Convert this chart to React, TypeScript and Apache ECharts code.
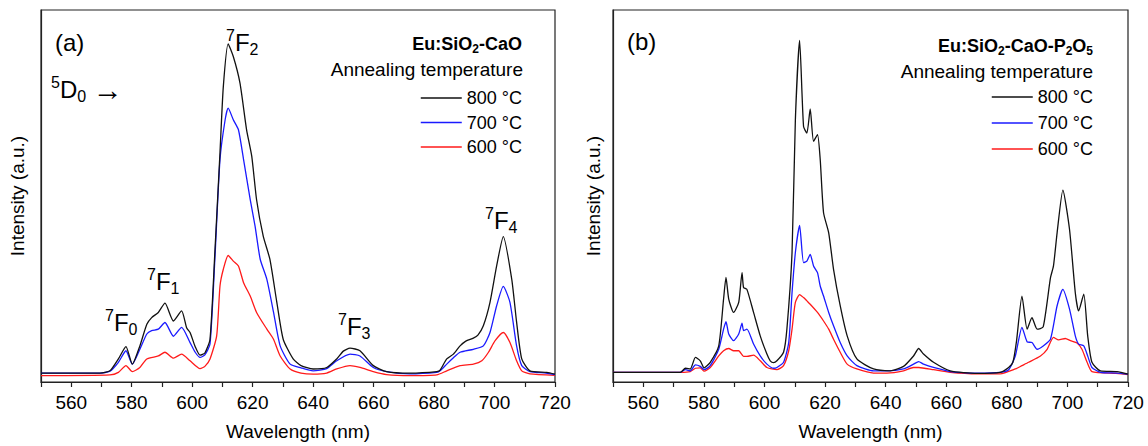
import React, { useEffect, useRef } from "react";
import * as echarts from "echarts";

const FONT = "'Liberation Sans', Arial, Helvetica, sans-serif";

const xTicks = { min: 550, max: 720, step: 10, labelStep: 20 };
const seriesNames = ["800 °C", "700 °C", "600 °C"];
const seriesColors = ["#111111", "#1a1aff", "#ff1a1a"];

// Panel (a): Eu:SiO2-CaO  — [wavelength nm, intensity a.u.]
const a800: [number, number][] = [
  [550, 2.4], [569.5, 2.4], [572.8, 3.0], [575.6, 6.2], [578.1, 9.5], [580.2, 4.8], [582.7, 9.7], [585, 15.5],
  [586.6, 17.3], [588.8, 18.7], [591, 21.2], [593.8, 16.4], [596.5, 19.1], [598.2, 14.5], [599.3, 13.3], [601, 9.5],
  [602.6, 7.2], [604.2, 7.8], [605.9, 11.5], [607.5, 34.8], [609.2, 61.7], [610.3, 79.4], [611.9, 90.9], [613.6, 87.5],
  [615.8, 80.4], [618, 67.8], [619.7, 60.7], [621.3, 49], [623.5, 39.2], [625.7, 33], [628, 21.4], [630.1, 11.5],
  [633.4, 6.2], [636, 4.4], [640, 3.5], [644.5, 3.9], [647.8, 6.2], [650, 8.3], [652.2, 9.1], [655.5, 8.4],
  [659.9, 4.4], [664.3, 2.8], [672, 2.4], [680.9, 2.8], [682, 3.2], [684.2, 6.2], [686.4, 7.5], [688.6, 9.7],
  [690.5, 11], [693, 11.8], [694.5, 12.6], [696.3, 15.1], [698.5, 21.4], [700.7, 31.2], [702.9, 39.1], [705.7, 27.6],
  [707.3, 16.1], [709, 6.2], [711.7, 3], [717.3, 2.6], [720, 2.1],
];
const a700: [number, number][] = [
  [550, 2.4], [569.5, 2.4], [572.8, 2.9], [575.6, 5.3], [578.1, 8.4], [580.2, 4.8], [582.7, 8.8], [585, 12.9],
  [586.6, 13.8], [588.8, 14.2], [591, 16], [593.8, 12.3], [596.5, 14.7], [599.3, 10.6], [601, 8], [602.6, 6.6],
  [604.2, 7.3], [605.9, 10.2], [607.5, 33], [609.2, 59.8], [610.9, 70.5], [611.9, 73.6], [613.6, 70.5], [615.3, 67.8],
  [617, 59.8], [619.2, 49], [620.8, 41.9], [622.5, 33], [624.7, 27.6], [626.9, 18.8], [629.1, 9.7], [632.4, 4.8],
  [636, 3.8], [640, 3.0], [644.5, 3.6], [647.8, 5.7], [652.2, 7.5], [655.5, 7], [659.9, 3.9], [664.3, 2.8],
  [672, 2.2], [680.9, 2.6], [682, 3], [684.2, 4.8], [686.4, 6.5], [688.6, 8], [693, 8.8], [696.3, 9.7],
  [698.5, 13.3], [700.7, 20.5], [702.9, 25.7], [705.1, 21.4], [707.3, 9.7], [709, 4.4], [711.7, 2.8], [717, 2.4],
  [720, 2.0],
];
const a600: [number, number][] = [
  [550, 1.7], [572.8, 1.9], [575.6, 2.6], [578.1, 4.4], [580.2, 2.8], [582.7, 3.9], [585, 6.2], [588.8, 7],
  [591, 8], [593.8, 6.4], [596.5, 7.5], [599.3, 5.7], [602.6, 3.6], [604.2, 4.2], [605.9, 6.2], [608.1, 12.4],
  [609.2, 25.8], [610.3, 30.3], [611.9, 34], [613.6, 32.5], [615.3, 31.2], [617, 26.7], [619.2, 23.1], [621.3, 18.7],
  [624.7, 14.2], [626.9, 11.5], [629.1, 7], [632.4, 3.5], [636, 2.4], [640, 2.1], [644.5, 2.4], [647.8, 3.5],
  [652.2, 4.4], [655.5, 3.9], [659.9, 2.8], [664.3, 2.0], [672, 1.7], [680.9, 1.9], [684.2, 3], [688.6, 4.4],
  [693, 4.8], [695.8, 5.7], [698, 8], [700.2, 11.1], [702.9, 13.3], [705.1, 10.6], [707.3, 5.7], [709, 3],
  [711.7, 2.2], [720, 1.8],
];

// Panel (b): Eu:SiO2-CaO-P2O5
const b800: [number, number][] = [
  [550, 2.6], [572.2, 2.6], [573.9, 3.7], [575.5, 3.5], [577.2, 6.6], [578.8, 5.7], [580.1, 3.8], [582.1, 5.3],
  [584.9, 9.7], [586.5, 22.3], [587.3, 28.1], [588.2, 22.3], [589.8, 18.7], [591.5, 21.4], [592.6, 29.4], [593.1, 25.4],
  [594.2, 24.9], [596.4, 18.7], [598.6, 12.4], [600.8, 7.5], [601.9, 5.7], [603, 5.2], [604.1, 5.7], [606.3, 8],
  [607.4, 14.2], [609.1, 34.8], [610.2, 70.5], [611.6, 91.8], [612.9, 68.7], [614, 66.9], [615.1, 73.4], [616.2, 64.7],
  [617.5, 66.5], [618.4, 59.8], [619.5, 45.5], [621.2, 40.1], [622.8, 30.3], [625, 20.5], [627.3, 12.4], [630.5, 6.2],
  [636, 3.5], [641.5, 3], [645.9, 4.2], [649.2, 7], [650.9, 9], [652.5, 7.5], [655.8, 5.3], [661.3, 3],
  [670.2, 2.3], [677.8, 2.6], [680.6, 3.9], [682, 5.3], [683.2, 11], [685, 23.1], [686.7, 14.2], [688.3, 17.3],
  [690, 14.2], [692, 14.8], [694.4, 28], [695.4, 31.2], [696.6, 40.1], [698.5, 51.6], [700.7, 41], [702.6, 24],
  [703.7, 19.1], [705.4, 23.6], [706.7, 12.4], [708.1, 5.3], [710.9, 3], [716.4, 2.8], [720, 2.1],
];
const b700: [number, number][] = [
  [550, 2.6], [572.2, 2.6], [573.9, 3.3], [575.5, 3], [577.2, 4.6], [578.8, 4.2], [580.1, 3.3], [582.1, 4.4],
  [584.9, 8.8], [586.5, 14.2], [587.3, 16.2], [588.2, 12.9], [589.8, 11.1], [591.5, 12.9], [592.6, 15.8], [593.1, 13.8],
  [594.2, 14.2], [596.4, 10.2], [598.6, 7], [600.8, 4.8], [603, 3.7], [604.1, 3.9], [606.3, 5.3], [608, 10.6],
  [609.1, 24], [610.2, 34.8], [611.6, 42.1], [612.9, 32.1], [614, 32.5], [615.1, 34.3], [616.2, 31.2], [617.5, 29.4],
  [618.4, 25.8], [619.5, 23.1], [621.2, 18.7], [622.8, 15.1], [625, 10.6], [627.3, 7], [630.5, 4.4], [636, 3],
  [640.4, 3], [645.9, 3.5], [649.2, 4.8], [650.9, 5.5], [652.5, 4.8], [655.8, 3.9], [661.3, 2.8], [670.2, 2.4],
  [677.8, 2.6], [680.6, 3.3], [682.8, 7], [685, 14.7], [686.7, 10.8], [688.3, 10.6], [690, 8.8], [692, 9.7],
  [694.4, 11.5], [696.6, 20.5], [698.5, 24.9], [700.7, 19.6], [702.6, 12.4], [703.7, 10.2], [705.4, 9.7], [706.7, 7],
  [708.1, 3.9], [710.9, 2.6], [716.4, 2.4], [720, 2.1],
];
const b600: [number, number][] = [
  [550, 2.6], [572.2, 2.6], [575.5, 2.8], [577.2, 3.7], [578.8, 3.8], [580.1, 2.9], [582.1, 3.9], [584.9, 7],
  [586.5, 8.4], [588.2, 9], [589.8, 8.4], [591.5, 8.4], [593.1, 6.9], [594.2, 6.9], [596.4, 7.2], [598.6, 5.7],
  [600.8, 3.9], [604.1, 3.3], [606.3, 4.4], [608, 8.4], [609.1, 14.2], [610.2, 21.4], [611.6, 23.5], [612.9, 22.7],
  [614, 21.8], [615.1, 20.9], [617.5, 18.7], [619.5, 16.4], [621.2, 14.2], [622.8, 11.5], [625, 8], [627.3, 4.8],
  [630.5, 3.5], [636, 2.4], [640.4, 2.4], [645.9, 3], [649.2, 3.9], [650.9, 3.9], [655.8, 3.3], [661.3, 2.6],
  [670.2, 2.2], [677.8, 2.2], [682.8, 3.5], [685, 4.4], [687.2, 5.3], [691.1, 7], [693.3, 8.8], [695.4, 12],
  [697.1, 11.3], [699.3, 11.7], [701, 11.1], [703.2, 10.5], [704.8, 8.8], [706.5, 5.3], [708.1, 2.8], [716, 2.3],
  [720, 2.0],
];

const panelData = [
  [a800, a700, a600],
  [b800, b700, b600],
];

const annRich = {
  sup: { fontSize: 16, lineHeight: 20, verticalAlign: "top", fontFamily: FONT, fill: "#000" },
  b: { fontSize: 24, lineHeight: 30, fontFamily: FONT, fill: "#000" },
  sub: { fontSize: 16, lineHeight: 12, verticalAlign: "bottom", fontFamily: FONT, fill: "#000" },
  arr: { fontSize: 30, lineHeight: 30, fontFamily: FONT, fill: "#000" },
};
const titleRich = {
  t: { fontSize: 18, fontWeight: "bold", lineHeight: 22, fontFamily: FONT, fill: "#000" },
  ts: { fontSize: 12, fontWeight: "bold", lineHeight: 13, verticalAlign: "bottom", fontFamily: FONT, fill: "#000" },
};

function ann(text: string, x: number, y: number) {
  return {
    type: "text",
    x,
    y,
    silent: true,
    style: { text, rich: annRich, verticalAlign: "top", align: "left", fontFamily: FONT, fill: "#000" },
  };
}

export default function App() {
  const ref = useRef<HTMLDivElement>(null);
  useEffect(() => {
    if (!ref.current) return;
    const chart = echarts.init(ref.current, undefined, { renderer: "svg" });
    const grids = [
      { left: 41, top: 10, width: 514, height: 373 },
      { left: 613, top: 10, width: 515, height: 373 },
    ];
    const axisColor = "#222";
    const xAxes = grids.map((_, i) => ({
      gridIndex: i,
      type: "value",
      min: xTicks.min,
      max: xTicks.max,
      interval: xTicks.step,
      axisLine: { show: true, lineStyle: { color: axisColor, width: 1.2 } },
      axisTick: { show: true, inside: false, length: 5, lineStyle: { color: axisColor, width: 1.2 } },
      axisLabel: {
        color: "#000",
        fontSize: 19,
        fontFamily: FONT,
        margin: 11,
        formatter: (v: number) => (v % xTicks.labelStep === 0 ? String(v) : ""),
      },
      splitLine: { show: false },
      name: "Wavelength (nm)",
      nameLocation: "middle",
      nameGap: 40,
      nameTextStyle: { color: "#000", fontSize: 19, fontFamily: FONT },
    }));
    const yAxes = grids.map((_, i) => ({
      gridIndex: i,
      type: "value",
      min: 0,
      max: 100,
      axisLine: { show: true, lineStyle: { color: axisColor, width: 1.2 } },
      axisTick: { show: false },
      axisLabel: { show: false },
      splitLine: { show: false },
      name: "Intensity (a.u.)",
      nameLocation: "middle",
      nameRotate: 90,
      nameGap: i === 0 ? 14 : 10,
      nameTextStyle: { color: "#000", fontSize: 19, fontFamily: FONT },
    }));
    const series: any[] = [];
    panelData.forEach((panel, p) => {
      panel.forEach((data, k) => {
        series.push({
          type: "line",
          name: seriesNames[k],
          xAxisIndex: p,
          yAxisIndex: p,
          data,
          symbol: "none",
          showSymbol: false,
          smooth: 0.2,
          z: 10 - k,
          lineStyle: { color: seriesColors[k], width: 1.3 },
          itemStyle: { color: seriesColors[k] },
        });
      });
    });
    const legendBase = {
      data: seriesNames,
      orient: "vertical",
      align: "left",
      icon: "rect",
      itemWidth: 41,
      itemHeight: 1.6,
      padding: 0,
      selectedMode: false,
      textStyle: { color: "#000", fontSize: 18, lineHeight: 20, fontFamily: FONT },
    };
    chart.setOption({
      animation: false,
      backgroundColor: "#fff",
      grid: grids.map((g) => ({ ...g, show: true, borderColor: axisColor, borderWidth: 1.2, containLabel: false })),
      xAxis: xAxes,
      yAxis: yAxes,
      legend: [
        { ...legendBase, right: 626, top: 88, itemGap: 4.5 },
        { ...legendBase, right: 55, top: 87, itemGap: 6 },
      ],
      series,
      graphic: [
        { type: "text", x: 55, y: 42, silent: true, style: { text: "(a)", fontSize: 24, fontFamily: FONT, fill: "#000", verticalAlign: "middle" } },
        { type: "text", x: 627, y: 41, silent: true, style: { text: "(b)", fontSize: 24, fontFamily: FONT, fill: "#000", verticalAlign: "middle" } },
        ann("{sup|5}{b|D}{sub|0}{b| }{arr|→}", 51, 74),
        ann("{sup|7}{b|F}{sub|2}", 226, 27),
        ann("{sup|7}{b|F}{sub|0}", 105, 307),
        ann("{sup|7}{b|F}{sub|1}", 147, 266),
        ann("{sup|7}{b|F}{sub|3}", 338, 311),
        ann("{sup|7}{b|F}{sub|4}", 485, 205),
        {
          type: "text", x: 522, y: 32.5, silent: true,
          style: { text: "{t|Eu:SiO}{ts|2}{t|-CaO}", rich: titleRich, align: "right", verticalAlign: "top", fontFamily: FONT },
        },
        {
          type: "text", x: 1093, y: 34.5, silent: true,
          style: { text: "{t|Eu:SiO}{ts|2}{t|-CaO-P}{ts|2}{t|O}{ts|5}", rich: titleRich, align: "right", verticalAlign: "top", fontFamily: FONT },
        },
        { type: "text", x: 523, y: 69.5, silent: true, style: { text: "Annealing temperature", fontSize: 19, fontFamily: FONT, fill: "#000", align: "right", verticalAlign: "middle" } },
        { type: "text", x: 1093, y: 71.5, silent: true, style: { text: "Annealing temperature", fontSize: 19, fontFamily: FONT, fill: "#000", align: "right", verticalAlign: "middle" } },
      ],
    });
    return () => chart.dispose();
  }, []);
  return <div ref={ref} style={{ position: "fixed", left: 0, top: 0, width: 1148, height: 446, background: "#fff" }} />;
}
